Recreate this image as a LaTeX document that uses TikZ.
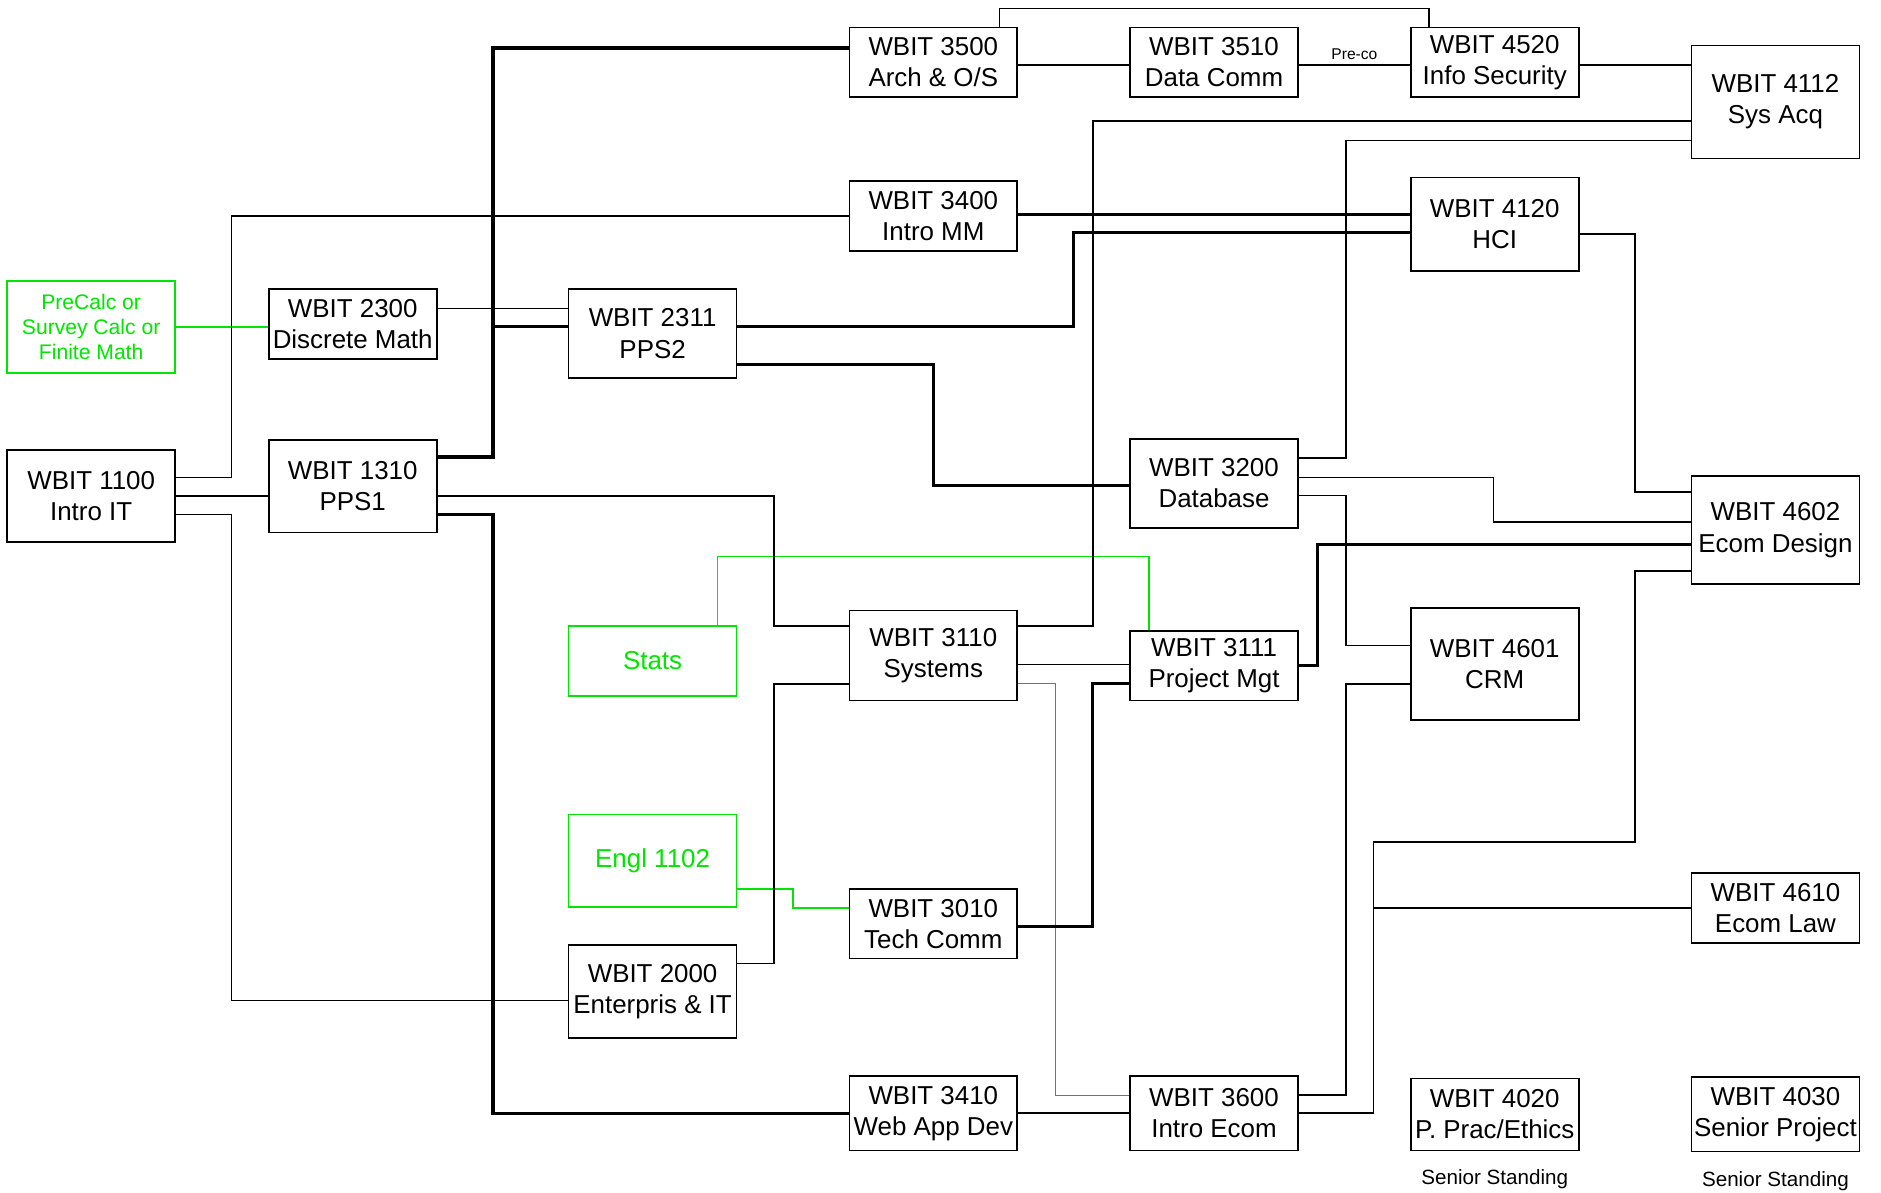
\documentclass[tikz,border=0pt]{standalone}
\usepackage{fontspec}
\setmainfont{Liberation Sans}
\usetikzlibrary{positioning}
\definecolor{prereq}{HTML}{00E600}

\begin{document}
\begin{tikzpicture}[x=0.5pt,y=-0.5pt,
  font=\fontsize{10.8}{13}\selectfont,
  course/.style={draw,line width=0.7pt,minimum width=70pt,minimum height=29pt,
                 align=center,inner sep=1pt},
  outside/.style={course,draw=prereq,text=prereq},
  link/.style={line width=0.65pt},
  core/.style={line width=1.3pt},
  weak/.style={line width=0.45pt,black!55},
  note/.style={font=\fontsize{8.6}{10}\selectfont}]
  \useasboundingbox (0,0) rectangle (1568,994);

  % courses, column by column
  \node[outside,minimum height=38.5pt,font=\fontsize{8.8}{10.5}\selectfont] (precalc) at (76,272.5)
       {PreCalc or\\Survey Calc or\\Finite Math};
  \node[course,minimum height=38.5pt] (c1100) at (76,413.5) {WBIT 1100\\Intro IT};
  \node[course] (c2300) at (294,270) {WBIT 2300\\Discrete Math};
  \node[course,minimum height=38.5pt] (c1310) at (294,405.5) {WBIT 1310\\PPS1};
  \node[course,minimum height=37pt] (c2311) at (544,278) {WBIT 2311\\PPS2};
  \node[outside] (stats) at (544,551) {Stats};
  \node[outside,minimum height=38.5pt] (engl) at (544,717.5) {Engl 1102};
  \node[course,minimum height=38.5pt] (c2000) at (544,826.5) {WBIT 2000\\Enterpris \& IT};
  \node[course] (c3500) at (778,52) {WBIT 3500\\Arch \& O/S};
  \node[course] (c3400) at (778,180) {WBIT 3400\\Intro MM};
  \node[course,minimum height=37.5pt] (c3110) at (778,546.5) {WBIT 3110\\Systems};
  \node[course] (c3010) at (778,770) {WBIT 3010\\Tech Comm};
  \node[course,minimum height=31pt] (c3410) at (778,928) {WBIT 3410\\Web App Dev};
  \node[course] (c3510) at (1012,52) {WBIT 3510\\Data Comm};
  \node[course,minimum height=37pt] (c3200) at (1012,403) {WBIT 3200\\Database};
  \node[course] (c3111) at (1012,555) {WBIT 3111\\Project Mgt};
  \node[course,minimum height=31pt] (c3600) at (1012,928) {WBIT 3600\\Intro Ecom};
  \node[course] (c4520) at (1246,52) {WBIT 4520\\Info Security};
  \node[course,minimum height=39pt] (c4120) at (1246,187) {WBIT 4120\\HCI};
  \node[course,minimum height=46.5pt] (c4601) at (1246,553.5) {WBIT 4601\\CRM};
  \node[course,minimum height=30pt] (c4020) at (1246,929) {WBIT 4020\\P. Prac/Ethics};
  \node[course,minimum height=47pt] (c4112) at (1480,85) {WBIT 4112\\Sys Acq};
  \node[course,minimum height=45pt] (c4602) at (1480,442) {WBIT 4602\\Ecom Design};
  \node[course] (c4610) at (1480,757) {WBIT 4610\\Ecom Law};
  \node[course,minimum height=31pt] (c4030) at (1480,929) {WBIT 4030\\Senior Project};
  \node[note,below=4pt of c4020] (sen1) {Senior Standing};
  \node[note,below=4.5pt of c4030] (sen2) {Senior Standing};

  % outside prerequisites
  \draw[link,prereq] (precalc.east) -- (precalc.east -| c2300.west);
  \draw[link,prereq] (598,0 |- stats.north) |- (958,464) -- (958,0 |- c3111.north);
  \draw[link,prereq] (engl.east |- 0,741) -| (661,757) -- (c3010.west |- 0,757);

  % from the first year
  \draw[link] (c1100.east |- 0,398) -| (193,180) -- (c3400.west);
  \draw[link] (c1100.east) -- (c1100.east -| c1310.west);
  \draw[link] (c1100.east |- 0,429) -| (193,834) -- (c2000.west |- 0,834);
  \draw[link] (c2300.east |- 0,257) -- (c2311.west |- 0,257);
  \draw[core] (c1310.east |- 0,381) -| (411,40) -- (c3500.west |- 0,40);
  \draw[core] (411,272) -- (c2311.west |- 0,272);
  \draw[core] (c1310.east |- 0,429) -| (411,928) -- (c3410.west);
  \draw[link] (c1310.east |- c1100.east) -| (645,522) -- (c3110.west |- 0,522);
  \draw[core] (c2311.east |- 0,272) -| (895,194) -- (c4120.west |- 0,194);
  \draw[core] (c2311.east |- 0,304) -| (778,405) -- (c3200.west |- 0,405);

  % top row
  \draw[core] (c3400.east |- 0,179) -- (c4120.west |- 0,179);
  \draw[link] (c3500.east |- 0,54) -- (c3510.west |- 0,54);
  \draw[link] (833,0 |- c3500.north) |- (1191,7) -- (1191,0 |- c4520.north);
  \draw[link] (c3510.east |- 0,54) -- node[above=1.5pt,inner sep=0.5pt,
       font=\fontsize{6.5}{8}\selectfont] (preco) {Pre-co} (c4520.west |- 0,54);
  \draw[link] (c4520.east |- 0,54) -- (c4112.west |- 0,54);
  \draw[link] (c4112.west |- 0,101) -| (911,522) -- (c3110.east |- 0,522);
  \draw[link] (c4112.west |- 0,117) -| (1122,382) -- (c3200.east |- 0,382);

  % into the e-commerce track
  \draw[link] (c4120.east |- 0,195) -| (1363,410) -- (c4602.west |- 0,410);
  \draw[link] (c3200.east |- 0,398) -| (1245,435) -- (c4602.west |- 0,435);
  \draw[link] (c3200.east |- 0,413) -| (1122,538) -- (c4601.west |- 0,538);
  \draw[core] (c3111.east) -| (1098,454) -- (c4602.west |- 0,454);
  \draw[link] (c4602.west |- 0,476) -| (1363,702) -| (1145,928) -- (c3600.east |- 0,928);
  \draw[link] (1145,757) -- (c4610.west);
  \draw[link] (c4601.west |- 0,570) -| (1122,913) -- (c3600.east |- 0,913);

  % middle block
  \draw[link] (c3110.east |- 0,554) -- (c3111.west |- 0,554);
  \draw[weak] (c3110.east |- 0,570) -| (880,913) -- (c3600.west |- 0,913);
  \draw[link] (c3110.west |- 0,570) -| (645,803) -- (c2000.east |- 0,803);
  \draw[core] (c3010.east |- 0,772) -| (911,570) -- (c3111.west |- 0,570);
  \draw[link] (c3410.east) -- (c3600.west);
\end{tikzpicture}
\end{document}
